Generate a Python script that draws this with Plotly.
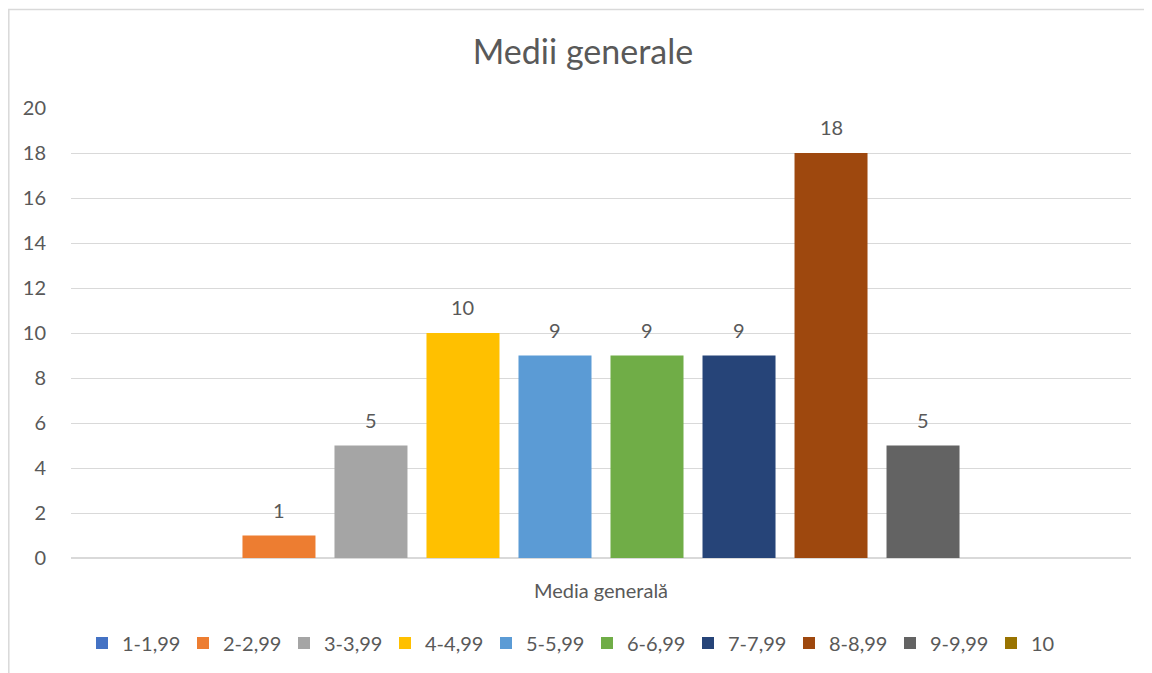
import plotly.graph_objects as go

category = "Media generală"
series_names = ["1-1,99", "2-2,99", "3-3,99", "4-4,99", "5-5,99",
                "6-6,99", "7-7,99", "8-8,99", "9-9,99", "10"]
values = [None, 1, 5, 10, 9, 9, 9, 18, 5, None]
colors = ["#4472C4", "#ED7D31", "#A5A5A5", "#FFC000", "#5B9BD5",
          "#70AD47", "#264478", "#9E480E", "#636363", "#997300"]
y_ticks = [0, 2, 4, 6, 8, 10, 12, 14, 16, 18, 20]

FONT = "Lato, Calibri, 'Open Sans', sans-serif"
TXT = "#595959"

OFF = 8  # page body margin
W, H = 1152 - OFF, 673 - OFF
ML = 71 - OFF
MT = 108 - OFF
PLOT_BOTTOM = 559 - OFF
PLOT_RIGHT = 1131 - OFF
MB = H - PLOT_BOTTOM
MR = W - PLOT_RIGHT
PW, PH = W - ML - MR, H - MT - MB
BARGAP = 0.132
BARGROUPGAP = 0.2065

fig = go.Figure()
for name, v, c in zip(series_names, values, colors):
    fig.add_trace(go.Bar(x=[category], y=[v], name=name, marker_color=c,
                         marker_line_width=0))

n = len(series_names)
slot = (1 - BARGAP) / n
for i, v in enumerate(values):
    if v is None:
        continue
    fig.add_annotation(x=(i - (n - 1) / 2) * slot, y=v, xref="x", yref="y",
                       text=str(v), showarrow=False, yanchor="bottom",
                       yshift=12, font=dict(family=FONT, size=20, color=TXT))


def px_to_paper_x(px):
    return (px - OFF - ML) / PW


def px_to_paper_y(py):
    return (PLOT_BOTTOM - (py - OFF)) / PH


fig.add_shape(type="rect", xref="paper", yref="paper",
              x0=px_to_paper_x(OFF + 0.8), x1=px_to_paper_x(1170),
              y0=px_to_paper_y(700), y1=px_to_paper_y(OFF + 1.2),
              line=dict(color="#d9d9d9", width=1.5), fillcolor="rgba(0,0,0,0)",
              layer="below")

fig.update_layout(
    width=W, height=H,
    margin=dict(l=ML, r=MR, t=MT, b=MB),
    paper_bgcolor="white", plot_bgcolor="white",
    barmode="group", bargap=BARGAP, bargroupgap=BARGROUPGAP,
    title=dict(text="Medii generale", x=(583 - OFF) / W, xanchor="center",
               y=1 - (52 - OFF) / H, yanchor="middle",
               xref="container", yref="container",
               font=dict(family=FONT, size=34, color=TXT)),
    font=dict(family=FONT, size=20, color=TXT),
    showlegend=True,
    legend=dict(orientation="h", x=px_to_paper_x(82), xanchor="left",
                y=px_to_paper_y(643), yanchor="middle",
                entrywidth=56, entrywidthmode="pixels",
                font=dict(family=FONT, size=20, color=TXT),
                traceorder="normal"),
    xaxis=dict(showgrid=False, showline=False, zeroline=False,
               ticks="outside", ticklen=15, tickcolor="rgba(0,0,0,0)",
               tickfont=dict(family=FONT, size=20, color=TXT)),
    yaxis=dict(range=[0, 20], tickvals=y_ticks, showgrid=True,
               gridcolor="#d9d9d9", gridwidth=1.3, zeroline=True,
               zerolinecolor="#d9d9d9", zerolinewidth=1.5, showline=False,
               ticks="outside", ticklen=20, tickcolor="rgba(0,0,0,0)",
               tickfont=dict(family=FONT, size=20, color=TXT)),
)

fig.write_html("out.html")
